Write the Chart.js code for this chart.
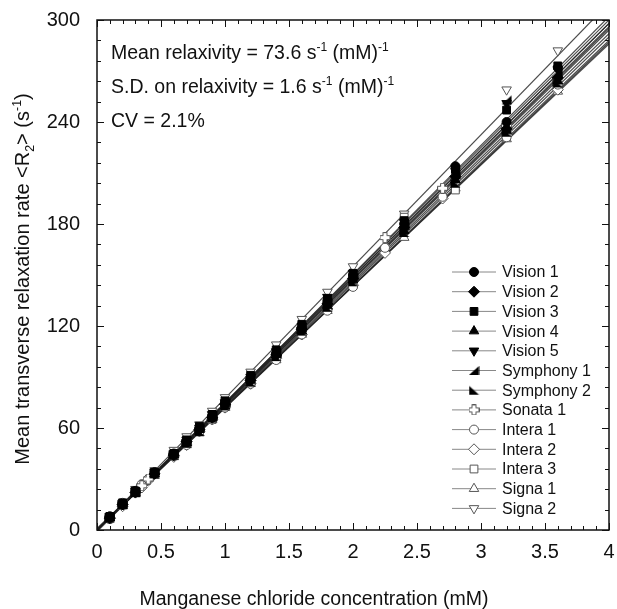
<!DOCTYPE html>
<html>
<head>
<meta charset="utf-8">
<script src="https://cdn.jsdelivr.net/npm/chart.js@4.4.1/dist/chart.umd.min.js"></script>
<style>
    body { margin:0; background:#fff; }
</style>
</head>
<body>
<canvas id="grafico" width="617" height="609"></canvas>
<script>

// concentraciones (mM)
const concA = [0.1, 0.2, 0.3, 0.45, 0.6, 0.7, 0.8, 0.9, 1.0, 1.2, 1.4, 1.6, 1.8, 2.0, 2.4, 2.8, 3.2, 3.6];
const concB = [0.1, 0.2, 0.35, 0.4, 0.6, 0.7, 0.8, 0.9, 1.0, 1.2, 1.4, 1.6, 1.8, 2.0, 2.25, 2.7, 3.2, 3.6];

const nombres = ['Vision 1','Vision 2','Vision 3','Vision 4','Vision 5','Symphony 1','Symphony 2',
                 'Sonata 1','Intera 1','Intera 2','Intera 3','Signa 1','Signa 2'];

// <R2> (s-1) por escaner
const vision1   = [8, 15, 23, 34, 45, 52, 60, 67, 75, 90, 104, 119, 135, 150, 180, 214, 240, 272];
const vision2   = [7, 15, 22, 33, 44, 52, 59, 66, 74, 88, 103, 118, 133, 148, 178, 208, 236, 266];
const vision3   = [8, 16, 23, 34, 45, 53, 61, 68, 76, 91, 106, 121, 136, 151, 182, 212, 247, 273];
const vision4   = [7, 15, 22, 33, 44, 51, 59, 66, 73, 88, 103, 117, 132, 147, 176, 206, 235, 264];
const vision5   = [8, 15, 23, 34, 45, 53, 60, 68, 75, 90, 105, 120, 137, 151, 181, 211, 251, 271];
const symphony1 = [8, 15, 22, 34, 45, 52, 60, 67, 75, 90, 104, 119, 134, 149, 179, 209, 253, 269];
const symphony2 = [7, 15, 22, 33, 44, 51, 58, 66, 73, 87, 102, 117, 131, 146, 175, 204, 234, 263];
const sonata1   = [7, 15, 26, 30, 44, 52, 59, 66, 74, 89, 103, 118, 133, 148, 172, 201, 238, 266];
const intera1   = [8, 16, 27, 30, 44, 50, 58, 65, 72, 86, 100, 115, 129, 143, 166, 196, 231, 262];
const intera2   = [7, 14, 25, 29, 43, 50, 58, 65, 72, 86, 101, 115, 130, 144, 163, 195, 232, 259];
const intera3   = [7, 15, 23, 33, 44, 51, 58, 65, 73, 87, 101, 116, 130, 145, 184, 200, 232, 261];
const signa1    = [7, 14, 22, 32, 43, 50, 57, 65, 72, 86, 100, 115, 129, 144, 172, 201, 230, 258];
const signa2    = [8, 16, 24, 35, 47, 55, 62, 70, 78, 93, 109, 124, 140, 155, 186, 213, 259, 282];

// rectas de ajuste: valor en x=0 y en x=4
const ajusteEn0 = [0, 0, -1, 0, 0, 0, 0, 0, 1, 0, 0, 0, 0];
const ajusteEn4 = [298, 296, 302, 294, 300, 298, 292, 295, 286, 288, 290, 287, 310];

const xTickLabels = ['0','0.5','1','1.5','2','2.5','3','3.5','4'];
const yTickLabels = ['0','60','120','180','240','300'];

const FUENTE = "'Liberation Sans', Arial, Helvetica, sans-serif";

function crearMarcador(tipo){
    const c = document.createElement('canvas');
    c.width = 11; c.height = 11;
    const g = c.getContext('2d');
    g.beginPath();
    if(tipo === 'sym1'){
        g.moveTo(0.5, 10); g.lineTo(10.5, 10); g.lineTo(10.5, 1);
    }else if(tipo === 'sym2'){
        g.moveTo(0.5, 1); g.lineTo(0.5, 10); g.lineTo(10.5, 10);
    }else{
        // cruz hueca
        const p = [[3.5,0.5],[7.5,0.5],[7.5,3.5],[10.5,3.5],[10.5,7.5],[7.5,7.5],[7.5,10.5],
                   [3.5,10.5],[3.5,7.5],[0.5,7.5],[0.5,3.5],[3.5,3.5]];
        g.moveTo(p[0][0], p[0][1]);
        p.forEach(v => g.lineTo(v[0], v[1]));
    }
    g.closePath();
    if(tipo === 'cruz'){
        g.fillStyle = '#fff'; g.fill();
        g.strokeStyle = '#555'; g.lineWidth = 1; g.stroke();
    }else{
        g.fillStyle = '#000'; g.fill();
    }
    return c;
}

const series = [vision1, vision2, vision3, vision4, vision5, symphony1, symphony2,
                sonata1, intera1, intera2, intera3, signa1, signa2];
const concSerie = [concA, concA, concA, concA, concA, concA, concA, concB, concB, concB, concA, concA, concA];

// estilo de marcador por serie
const marcas = [
    { style:'circle',   radius:4.5, rot:0,   lleno:true  },
    { style:'rectRot',  radius:5.5, rot:0,   lleno:true  },
    { style:'rect',     radius:5.5, rot:0,   lleno:true  },
    { style:'triangle', radius:5.5, rot:0,   lleno:true  },
    { style:'triangle', radius:5.5, rot:180, lleno:true  },
    { style:crearMarcador('sym1'), radius:5, rot:0, lleno:true },
    { style:crearMarcador('sym2'), radius:5, rot:0, lleno:true },
    { style:crearMarcador('cruz'), radius:5, rot:0, lleno:false },
    { style:'circle',   radius:4.5, rot:0,   lleno:false },
    { style:'rectRot',  radius:5.5, rot:0,   lleno:false },
    { style:'rect',     radius:5.5, rot:0,   lleno:false },
    { style:'triangle', radius:5.5, rot:0,   lleno:false },
    { style:'triangle', radius:5.5, rot:180, lleno:false }
];

let datasets = [];

series.forEach(function(valores, k){
    const m = marcas[k];
    datasets.push({
        label: nombres[k],
        data: valores.map((v, i) => ({ x: concSerie[k][i], y: v })),
        showLine: false,
        pointStyle: m.style,
        pointRadius: m.radius,
        pointRotation: m.rot,
        pointBackgroundColor: m.lleno ? '#000' : '#fff',
        pointBorderColor: m.lleno ? '#000' : '#555',
        pointBorderWidth: 1,
        order: 0
    });
    datasets.push({
        label: nombres[k] + ' ajuste',
        data: [{ x: 0, y: ajusteEn0[k] }, { x: 4, y: ajusteEn4[k] }],
        showLine: true,
        borderColor: 'rgba(30,30,30,0.8)',
        borderWidth: 1.2,
        pointRadius: 0,
        order: 1
    });
});

function textoRico(ctx, partes, x, y, size){
    let cx = x;
    partes.forEach(function(p){
        let s = size, dy = 0;
        if(p.sup){ s = size * 0.62; dy = -size * 0.42; }
        if(p.sub){ s = size * 0.62; dy = size * 0.25; }
        ctx.font = s + 'px ' + FUENTE;
        ctx.fillText(p.t, cx, y + dy);
        cx += ctx.measureText(p.t).width;
    });
    return cx - x;
}

function anchoRico(ctx, partes, size){
    let w = 0;
    partes.forEach(function(p){
        const s = (p.sup || p.sub) ? size * 0.62 : size;
        ctx.font = s + 'px ' + FUENTE;
        w += ctx.measureText(p.t).width;
    });
    return w;
}

function dibujarMarca(ctx, m, x, y){
    ctx.fillStyle = m.lleno ? '#000' : '#fff';
    ctx.strokeStyle = m.lleno ? '#000' : '#555';
    ctx.lineWidth = 1;
    Chart.helpers.drawPoint(ctx, { pointStyle: m.style, radius: m.radius, rotation: m.rot, borderWidth: 1 }, x, y);
}

const decoracion = {
    id: 'decoracion',
    afterDraw(chart){
        const ctx = chart.ctx;
        const a = chart.chartArea;
        const sx = chart.scales.x, sy = chart.scales.y;
        ctx.save();

        // marco
        ctx.strokeStyle = '#111';
        ctx.lineWidth = 1.5;
        ctx.strokeRect(a.left, a.top, a.right - a.left, a.bottom - a.top);

        // marcas interiores
        ctx.lineWidth = 1;
        ctx.beginPath();
        for(let i = 0; i <= 40; i++){
            const px = Math.round(sx.getPixelForValue(i / 10)) + 0.5;
            const l = (i % 5 === 0) ? 7 : 4;
            ctx.moveTo(px, a.bottom); ctx.lineTo(px, a.bottom - l);
            ctx.moveTo(px, a.top); ctx.lineTo(px, a.top + l);
        }
        for(let i = 0; i <= 25; i++){
            const py = Math.round(sy.getPixelForValue(i * 12)) + 0.5;
            const l = (i % 5 === 0) ? 7 : 4;
            ctx.moveTo(a.left, py); ctx.lineTo(a.left + l, py);
            ctx.moveTo(a.right, py); ctx.lineTo(a.right - l, py);
        }
        ctx.stroke();

        // leyenda
        ctx.textBaseline = 'middle';
        ctx.textAlign = 'left';
        nombres.forEach(function(n, k){
            const y = 272 + k * 19.7;
            ctx.strokeStyle = '#888';
            ctx.lineWidth = 1;
            ctx.beginPath();
            ctx.moveTo(452, y); ctx.lineTo(496, y);
            ctx.stroke();
            dibujarMarca(ctx, marcas[k], 474, y);
            ctx.fillStyle = '#111';
            ctx.font = '16px ' + FUENTE;
            ctx.fillText(n, 502, y + 1);
        });

        // anotaciones
        ctx.fillStyle = '#111';
        ctx.textBaseline = 'alphabetic';
        textoRico(ctx, [{t:'Mean relaxivity = 73.6 s'},{t:'-1',sup:true},{t:' (mM)'},{t:'-1',sup:true}], 111, 59, 19.5);
        textoRico(ctx, [{t:'S.D. on relaxivity = 1.6 s'},{t:'-1',sup:true},{t:' (mM)'},{t:'-1',sup:true}], 111, 93, 19.5);
        textoRico(ctx, [{t:'CV = 2.1%'}], 111, 127, 19.5);

        // titulo eje x
        const tx = [{t:'Manganese chloride concentration (mM)'}];
        const wx = anchoRico(ctx, tx, 19.5);
        textoRico(ctx, tx, 314 - wx / 2, 605, 19.5);

        // titulo eje y
        const ty = [{t:'Mean transverse relaxation rate <R'},{t:'2',sub:true},{t:'> (s'},{t:'-1',sup:true},{t:')'}];
        const wy = anchoRico(ctx, ty, 20);
        ctx.translate(29, 279);
        ctx.rotate(-Math.PI / 2);
        textoRico(ctx, ty, -wy / 2, 0, 20);

        ctx.restore();
    }
};

new Chart(document.getElementById('grafico'), {
    type: 'scatter',
    data: { datasets: datasets },
    plugins: [decoracion],
    options: {
        responsive: false,
        animation: false,
        layout: { padding: { left: 0, right: 8, top: 20, bottom: 0 } },
        plugins: {
            legend: { display: false },
            tooltip: { enabled: false }
        },
        scales: {
            x: {
                type: 'linear',
                min: 0, max: 4,
                afterFit: function(scale){
                    scale.height = 79;
                    scale.paddingLeft = 0; scale.paddingRight = 0;
                },
                grid: { display: false, drawTicks: false },
                border: { display: false },
                ticks: {
                    stepSize: 0.5,
                    padding: 10,
                    color: '#111',
                    font: { family: FUENTE, size: 20 },
                    maxRotation: 0,
                    callback: (v, i) => xTickLabels[i]
                }
            },
            y: {
                type: 'linear',
                min: 0, max: 300,
                afterFit: function(scale){
                    scale.width = 97;
                    scale.paddingTop = 0; scale.paddingBottom = 0;
                },
                grid: { display: false, drawTicks: false },
                border: { display: false },
                ticks: {
                    stepSize: 60,
                    padding: 17,
                    color: '#111',
                    font: { family: FUENTE, size: 20 },
                    callback: (v, i) => yTickLabels[i]
                }
            }
        }
    }
});
</script>
</body>
</html>
